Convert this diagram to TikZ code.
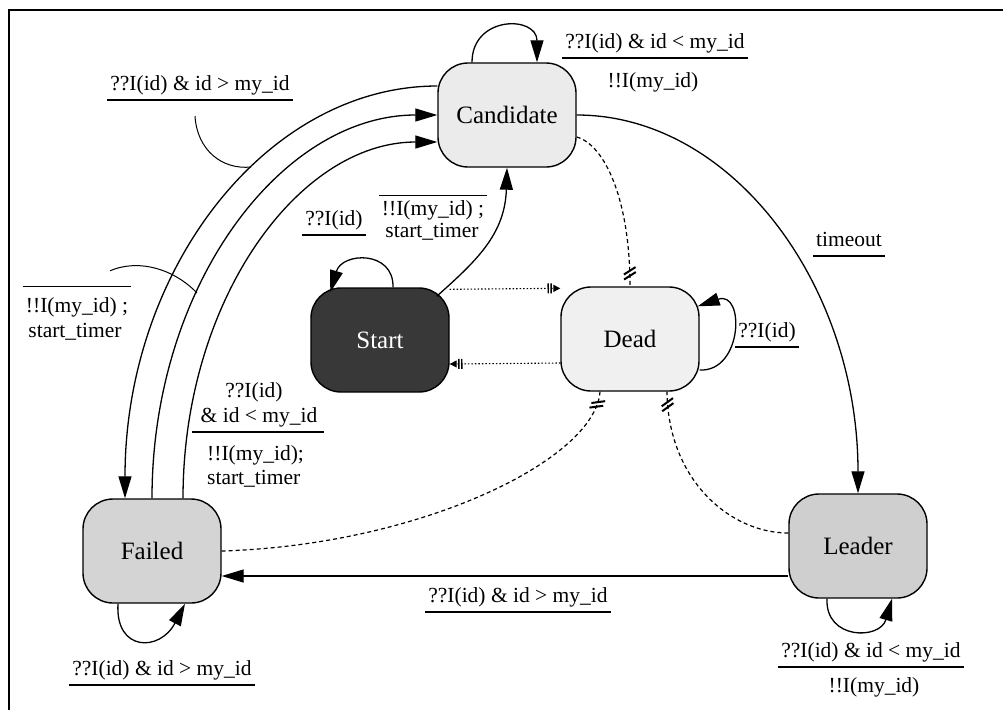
\documentclass[tikz,border=0pt]{standalone}
\usepackage{fontspec}
\setmainfont{Liberation Serif}
\usetikzlibrary{arrows.meta,decorations.markings}
\begin{document}
\begin{tikzpicture}[x=1pt,y=-1pt,
  state/.style={draw=black, line width=1.4pt, rounded corners=30pt,
    minimum width=138pt, minimum height=104pt, inner sep=0pt,
    font=\fontsize{25}{30}\selectfont},
  lab/.style={font=\fontsize{21.5}{26}\selectfont, inner xsep=3pt, inner ysep=4pt,
    text height=15pt, text depth=5pt},
  edge/.style={line width=1.3pt, -{Triangle[length=22pt,width=13pt]}},
  uline/.style={line width=1.1pt},
  lead/.style={line width=1pt},
  dotline/.style={line width=1.1pt, dash pattern=on 1.5pt off 2pt,
    -{Bar[width=10pt,line width=1.4pt,sep=1.5pt]Bar[width=10pt,line width=1.4pt,sep=1.5pt]Triangle[length=7pt,width=7pt]}},
  kill/.style={line width=1.2pt, dash pattern=on 4pt off 3pt,
    postaction={decorate, decoration={markings,
      mark=at position -16pt with {\draw[solid,line width=2pt] (4pt,-6pt) -- (-3pt,6pt) (9pt,-6pt) -- (2pt,6pt);}}}}
]
\useasboundingbox (0,0) rectangle (1003,713);
\fill[white] (0,0) rectangle (1003,713);
% frame
\draw[line width=1.4pt] (1003,10) -- (9,10) -- (9,710);

% states
\node[state, fill=gray!16] (cand) at (507,115) {Candidate};
\node[state, fill=black!78, text=white] (start) at (380,340) {Start};
\node[state, fill=gray!12] (dead) at (630,339) {Dead};
\node[state, fill=gray!34] (failed) at (152,551) {Failed};
\node[state, fill=gray!38] (leader) at (858,546) {Leader};

% candidate self loop
\draw[edge] ([xshift=-35pt]cand.north) .. controls +(0,-47) and +(0,-47) .. ([xshift=30pt]cand.north);
\node[lab, anchor=south] (l1a) at (655,58) {??I(id) \& id < my\_id};
\draw[uline] (l1a.south west) -- (l1a.south east);
\node[lab] (l1b) at (653,82) {!!I(my\_id)};

% candidate -> failed (outer)
\draw[edge] ([yshift=29pt]cand.west) .. controls (266,86) and (125,270) .. ([xshift=-27pt]failed.north);
\coordinate (o1) at (251,167);
\node[lab, anchor=south] (l2) at (200,100) {??I(id) \& id > my\_id};
\draw[uline] (l2.south west) -- (l2.south east);
\draw[lead] ([xshift=-5pt,yshift=-16pt]l2.south) .. controls (197,150) and (222,170) .. (o1);

% failed -> candidate (middle)
\draw[edge] (failed.north) .. controls (152,286) and (281,115) .. (cand.west);
\coordinate (m1) at (197,293);
\node[lab] (l3a) at (77,307) {!!I(my\_id) ;};
\node[lab] (l3b) at (75,332) {start\_timer};
\draw[uline] ([yshift=6pt]l3a.north west) -- ([yshift=6pt]l3a.north east);
\draw[lead] ([xshift=33pt,yshift=22pt]l3a.north) .. controls (140,258) and (175,270) .. (m1);

% failed -> candidate (inner)
\draw[edge] ([xshift=31pt]failed.north) .. controls (183,301) and (298,142) .. ([yshift=-27pt]cand.west);
\node[lab] (l4a) at (254,392) {??I(id)};
\node[lab, anchor=south] (l4b) at (259,432) {\& id < my\_id};
\draw[uline] ([xshift=-5pt]l4b.south west) -- ([xshift=3pt]l4b.south east);
\node[lab, anchor=west] (l4c) at (204,455) {!!I(my\_id);};
\node[lab, anchor=west] (l4d) at (204,479) {start\_timer};

% start -> candidate
\draw[edge] ([xshift=-13pt,yshift=-9pt]start.north east) .. controls (475,262) and (505,235) .. (cand.south);
\node[lab] (l5a) at (433,210) {!!I(my\_id) ;};
\node[lab] (l5b) at (432,232) {start\_timer};
\draw[uline] (l5a.north west) -- (l5a.north east);

% start self loop
\draw[edge] ([xshift=13pt]start.north) .. controls (394,250) and (342,252) .. ([xshift=20pt,yshift=-5pt]start.north west);
\node[lab, anchor=south] (l6) at (334,235) {??I(id)};
\draw[uline] (l6.south west) -- (l6.south east);

% start <-> dead
\draw[dotline] ([yshift=-2pt]start.north east) -- ([yshift=-2pt]dead.north west);
\draw[dotline] ([yshift=-24pt]dead.west) -- ([yshift=-24pt]start.east);

% to dead (dashed)
\draw[kill] ([yshift=-22pt]cand.east) .. controls (605,145) and (630,200) .. (dead.north);
\draw[kill] (failed.east) .. controls (420,545) and (595,460) .. ([xshift=-30pt]dead.south);
\draw[kill] ([yshift=13pt]leader.west) .. controls (730,533) and (668,480) .. ([xshift=37pt]dead.south);

% dead self loop
\draw[edge] ([yshift=-31pt]dead.east) .. controls (743,372) and (745,290) .. ([xshift=-2pt,yshift=-20pt]dead.north east);
\node[lab, anchor=south] (l7) at (767,347) {??I(id)};
\draw[uline] (l7.south west) -- (l7.south east);

% candidate -> leader
\draw[edge] (cand.east) .. controls (732,115) and (858,285) .. (leader.north);
\node[lab, anchor=south] (l8) at (849,256) {timeout};
\draw[uline] (l8.south west) -- (l8.south east);

% leader -> failed
\draw[edge] ([yshift=-30pt]leader.west) -- ([yshift=-25pt]failed.east);
\node[lab, anchor=south] (l9) at (518,612) {??I(id) \& id > my\_id};
\draw[uline] (l9.south west) -- (l9.south east);

% failed self loop
\draw[edge] ([xshift=-34pt]failed.south) .. controls (115,652) and (160,652) .. ([xshift=33pt]failed.south);
\node[lab, anchor=south] (l10) at (162,685) {??I(id) \& id > my\_id};
\draw[uline] (l10.south west) -- (l10.south east);

% leader self loop
\draw[edge] ([xshift=-31pt]leader.south) .. controls (825,640) and (880,640) .. ([xshift=34pt]leader.south);
\node[lab, anchor=south] (l11a) at (871,667) {??I(id) \& id < my\_id};
\draw[uline] (l11a.south west) -- (l11a.south east);
\node[lab] (l11b) at (874,687) {!!I(my\_id)};
\end{tikzpicture}
\end{document}
